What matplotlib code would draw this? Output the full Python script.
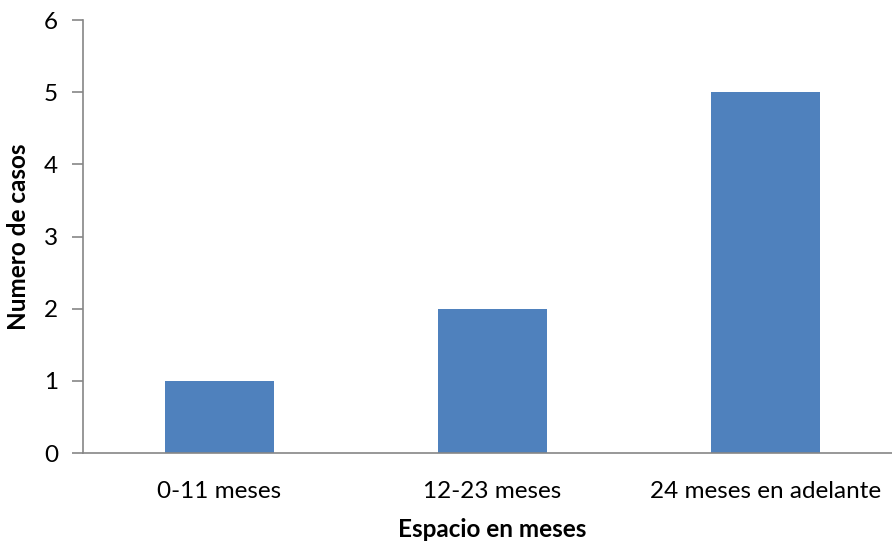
import matplotlib.pyplot as plt
import numpy as np

plt.rcParams['font.family'] = ['Lato', 'DejaVu Sans']

# Data
categories = ['0-11 meses', '12-23 meses', '24 meses en adelante']
casos = [1, 2, 5]

x = np.arange(len(categories))

fig = plt.figure(figsize=(8.92, 5.46), dpi=100)
# axes runs a little past the right edge, like the original
ax = fig.add_axes([83 / 892, 1 - 453 / 546, 818.7 / 892, 433 / 546])
ax.bar(x, casos, width=0.4, color='#4F81BD')

ax.set_xlim(-0.5, 2.5)
ax.set_ylim(0, 6)
ax.set_yticks(range(7))
ax.set_xticks(x)
ax.set_xticklabels(categories)

for s in ['top', 'right']:
    ax.spines[s].set_visible(False)
for s in ['left', 'bottom']:
    ax.spines[s].set_color('#868686')
    ax.spines[s].set_linewidth(1.2)

ax.tick_params(axis='y', length=8, width=1.2, color='#868686', labelsize=17.5, pad=10)
ax.tick_params(axis='x', length=0, labelsize=17.5, pad=20)

ax.set_xlabel('Espacio en meses', fontsize=17.5, fontweight='bold', labelpad=12)
ax.set_ylabel('Numero de casos', fontsize=17.5, fontweight='bold', labelpad=10)

fig.savefig('out.png', dpi=100)
